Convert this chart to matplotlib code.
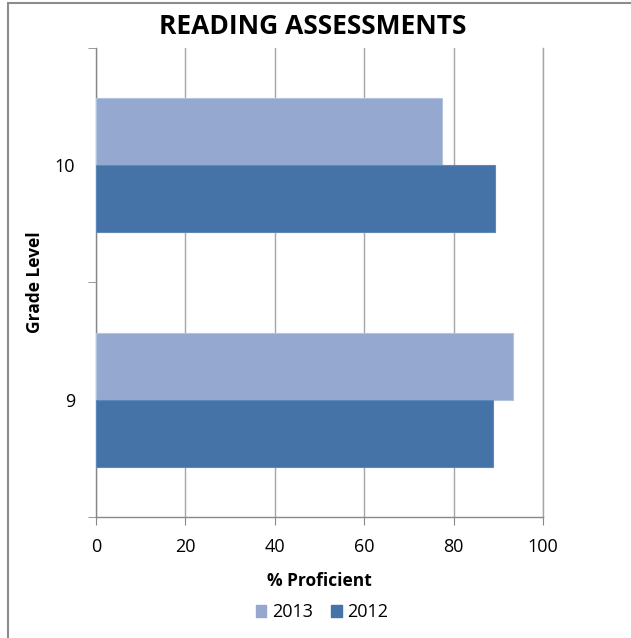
import matplotlib.pyplot as plt
import matplotlib.patches as mpatches
import numpy as np

# Datos
grades = ['9', '10']
pct_2013 = [93.3, 77.5]
pct_2012 = [88.8, 89.3]
series_names = ['2013', '2012']
x_ticks = [0, 20, 40, 60, 80, 100]

c_2013 = '#95A9D0'
c_2012 = '#4573A7'

plt.rcParams['font.family'] = ['Open Sans', 'DejaVu Sans']

fig = plt.figure(figsize=(6.31, 6.38), dpi=100)
ax = fig.add_axes([0.152, 0.1897, 0.7085, 0.7351])

y = np.arange(len(grades))
h = 0.286
ax.barh(y + h / 2, pct_2013, height=h, color=c_2013, edgecolor='#B4C3DE', linewidth=0.8,
        label=series_names[0], zorder=3)
ax.barh(y - h / 2, pct_2012, height=h, color=c_2012, edgecolor='#5F88BA', linewidth=0.8,
        label=series_names[1], zorder=3)

ax.set_xlim(0, 100)
ax.set_ylim(-0.5, 1.5)
ax.set_xticks(x_ticks)
ax.set_xticklabels([str(t) for t in x_ticks], fontsize=13)
ax.set_yticks(y)
ax.set_yticklabels(grades, fontsize=13)
ax.set_yticks([-0.5, 0.5, 1.5], minor=True)
ax.tick_params(axis='y', which='major', length=0, pad=15)
ax.tick_params(axis='y', which='minor', length=6, color='#888888', direction='out')
ax.tick_params(axis='x', length=6, color='#888888', direction='out', pad=9)

ax.grid(axis='x', color='#A6A6A6', linewidth=1, zorder=0)
ax.spines['top'].set_visible(False)
ax.spines['right'].set_color('#A6A6A6')
ax.spines['right'].set_linewidth(1)
for s in ['left', 'bottom']:
    ax.spines[s].set_color('#888888')
    ax.spines[s].set_linewidth(1)

ax.set_xlabel('% Proficient', fontsize=12.5, fontweight='bold', labelpad=12)
ax.set_ylabel('Grade Level', fontsize=12.5, fontweight='bold')
ax.yaxis.set_label_coords(-0.117, 0.5)
fig.text(0.495, 0.958, 'READING ASSESSMENTS', ha='center', va='center',
         fontsize=19, fontweight='bold')

handles = [mpatches.Patch(color=c_2013, label=series_names[0]),
           mpatches.Patch(color=c_2012, label=series_names[1])]
fig.legend(handles=handles, loc='center', bbox_to_anchor=(0.51, 0.04), ncol=2,
           frameon=False, fontsize=13, handlelength=0.6, handleheight=0.6,
           handletextpad=0.3, columnspacing=1.0)

# Borde exterior
fig.patches.append(mpatches.Rectangle((0.012, -0.01), 1.2, 1.006, transform=fig.transFigure,
                                      fill=False, edgecolor='#8C8C8C', linewidth=1.5))

plt.savefig('out.png', dpi=100)
